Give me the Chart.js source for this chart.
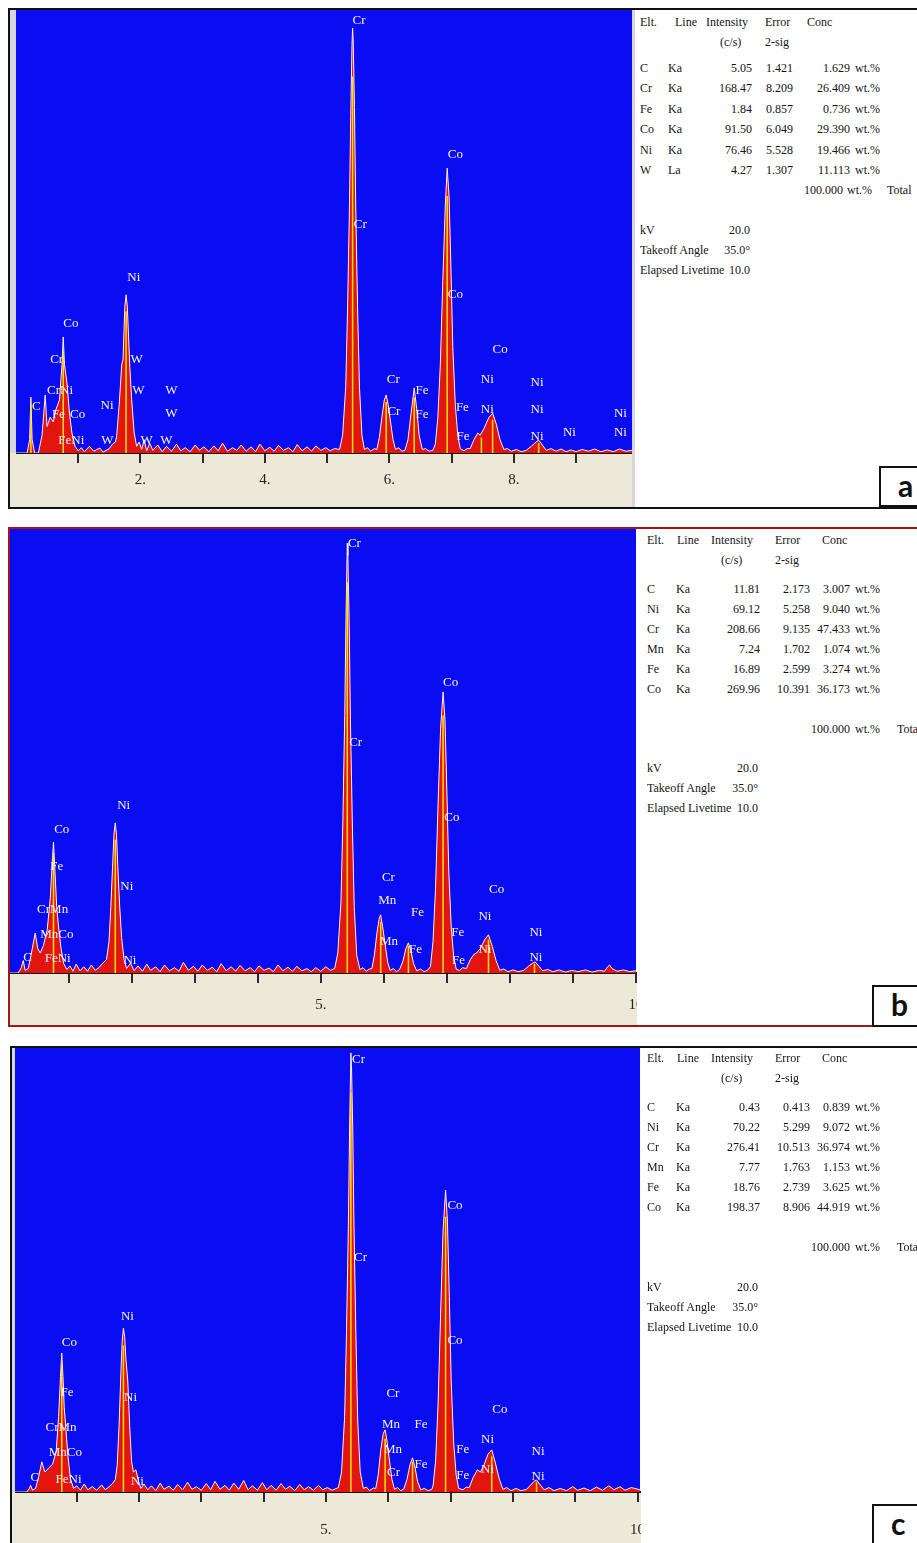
<!DOCTYPE html>
<html lang="en">
<head>
<meta charset="UTF-8">
<script src="https://cdn.jsdelivr.net/npm/chart.js"></script>
<title>EDS spectra a, b, c</title>
<style>
    * { margin: 0; padding: 0; box-sizing: border-box; }
    html, body { width: 917px; height: 1543px; overflow: hidden; background: #fff; position: relative; }
    .frame { position: absolute; border: 2px solid #111; }
    .beige { position: absolute; background: #ece9d8; }
    .strip { position: absolute; background: #d6d6e0; }
    .white { position: absolute; background: #fff; z-index: 3; }
    canvas { position: absolute; z-index: 2; }
    .tbl span { position: absolute; white-space: nowrap; line-height: 14px; z-index: 4;
                font: 12px "Liberation Serif", serif; color: #141414; }
    .tag { position: absolute; z-index: 5; background: #fff; border: 2px solid #111;
           font: bold 30px "Lato", sans-serif; color: #111; padding-left: 17px; line-height: 34px; }
</style>
</head>
<body>
    <!-- panel a -->
    <div class="frame" style="left:8px;top:8px;width:960px;height:501px;"></div>
    <div class="strip" style="left:10px;top:10px;width:6px;height:443px;"></div>
    <div class="beige" style="left:10px;top:453px;width:622px;height:54px;"></div>
    <canvas id="specA" width="616" height="497" style="left:16px;top:10px;"></canvas>
    <div class="strip" style="left:632px;top:10px;width:3px;height:497px;z-index:3;"></div>
    <div class="tag" style="left:879px;top:466px;width:60px;height:41px;">a</div>

    <!-- panel b -->
    <div class="frame" style="left:8px;top:527px;width:960px;height:500px;border-color:#a31616;"></div>
    <div class="beige" style="left:10px;top:973px;width:627px;height:52px;"></div>
    <canvas id="specB" width="640" height="496" style="left:10px;top:529px;"></canvas>
    <div class="white" style="left:637px;top:529px;width:290px;height:496px;"></div>
    <div class="tag" style="left:872px;top:985px;width:60px;height:42px;">b</div>

    <!-- panel c -->
    <div class="frame" style="left:10px;top:1046px;width:960px;height:600px;"></div>
    <div class="strip" style="left:12px;top:1048px;width:3px;height:444px;"></div>
    <div class="beige" style="left:12px;top:1492px;width:629px;height:60px;"></div>
    <canvas id="specC" width="640" height="495" style="left:15px;top:1048px;"></canvas>
    <div class="white" style="left:641px;top:1048px;width:290px;height:495px;"></div>
    <div class="tag" style="left:872px;top:1504px;width:60px;height:50px;">c</div>

    <div class="tbl" id="tables"></div>

    <script>
        // ---- spectra: [keV, counts] (counts scaled 0..1000 = full height of the plot) ----
        const aSpectrum = [
            [0, 0], [0.18, 0], [0.22, 30], [0.24, 126], [0.26, 30], [0.3, 0], [0.36, 0], [0.42, 40], [0.47, 131],
            [0.5, 60], [0.55, 81], [0.6, 70], [0.64, 97], [0.7, 120], [0.74, 200], [0.76, 262], [0.78, 200],
            [0.82, 158], [0.86, 90], [0.9, 45], [0.95, 15], [1.0, 5],
            [1.05, 12], [1.1, 3], [1.18, 15], [1.25, 4], [1.3, 8], [1.35, 11], [1.4, 2], [1.5, 10], [1.55, 20], [1.6, 25],
            [1.62, 40], [1.66, 110], [1.7, 200], [1.72, 210], [1.75, 330], [1.77, 357], [1.79, 330], [1.83, 194],
            [1.86, 120], [1.9, 45], [1.94, 15], [1.98, 25], [2.02, 8], [2.06, 30], [2.1, 5],
            [2.15, 22], [2.2, 6], [2.28, 18], [2.35, 3], [2.42, 15], [2.5, 4], [2.58, 20], [2.65, 5], [2.72, 12],
            [2.8, 3], [2.88, 18], [2.95, 6], [3.02, 14], [3.1, 3], [3.18, 16], [3.25, 5], [3.32, 22], [3.4, 4],
            [3.48, 12], [3.55, 6], [3.62, 18], [3.7, 4], [3.78, 14], [3.85, 3], [3.92, 20], [4.0, 5], [4.08, 13],
            [4.15, 4], [4.22, 17], [4.3, 6], [4.38, 12], [4.45, 3], [4.52, 19], [4.6, 5], [4.68, 14], [4.75, 4],
            [4.82, 16], [4.9, 6], [4.98, 12], [5.05, 5], [5.12, 10],
            [5.2, 8], [5.25, 40], [5.3, 150], [5.33, 330], [5.36, 560], [5.38, 760], [5.4, 920], [5.41, 959],
            [5.42, 930], [5.44, 780], [5.46, 560], [5.49, 330], [5.52, 150], [5.56, 40], [5.6, 8],
            [5.65, 12], [5.7, 4], [5.76, 10],
            [5.8, 8], [5.84, 35], [5.88, 80], [5.92, 120], [5.95, 131], [5.98, 110], [6.02, 70], [6.06, 30], [6.1, 8],
            [6.15, 12], [6.2, 4],
            [6.25, 6], [6.3, 30], [6.35, 90], [6.4, 147], [6.44, 100], [6.48, 40], [6.53, 8],
            [6.58, 10], [6.64, 4], [6.7, 6],
            [6.74, 20], [6.78, 80], [6.82, 200], [6.86, 390], [6.9, 560], [6.93, 643], [6.96, 580], [6.99, 420],
            [7.02, 240], [7.06, 110], [7.1, 40], [7.14, 10],
            [7.2, 5], [7.25, 10],
            [7.3, 10], [7.36, 30], [7.42, 45], [7.46, 40], [7.52, 55], [7.6, 80], [7.66, 90], [7.72, 65], [7.78, 30], [7.84, 8],
            [7.9, 10], [7.96, 4], [8.04, 8], [8.12, 3],
            [8.2, 6], [8.28, 15], [8.36, 25], [8.4, 29], [8.46, 18], [8.52, 6],
            [8.6, 10], [8.68, 4], [8.76, 9], [8.84, 3], [8.92, 7], [9.0, 3], [9.1, 8], [9.2, 4], [9.3, 9], [9.4, 3],
            [9.5, 7], [9.6, 3], [9.7, 9], [9.8, 4], [9.9, 6]
        ];
        const bSpectrum = [
            [0.07, 0], [0.2, 0], [0.25, 12], [0.28, 28], [0.31, 6], [0.36, 10], [0.41, 45], [0.47, 90], [0.51, 55],
            [0.55, 45], [0.6, 62], [0.66, 97], [0.71, 170], [0.74, 250], [0.76, 295], [0.78, 240], [0.81, 150],
            [0.84, 104], [0.88, 55], [0.92, 22], [0.97, 8],
            [1.02, 16], [1.07, 4], [1.12, 20], [1.18, 5], [1.24, 14], [1.3, 4], [1.36, 18], [1.42, 6], [1.48, 12],
            [1.54, 22], [1.6, 30],
            [1.64, 70], [1.67, 150], [1.7, 250], [1.72, 315], [1.74, 338], [1.76, 310], [1.78, 240], [1.81, 150],
            [1.84, 80], [1.88, 30], [1.92, 10],
            [1.98, 22], [2.04, 5], [2.1, 16], [2.17, 4], [2.24, 20], [2.3, 6], [2.38, 14], [2.45, 3], [2.52, 18],
            [2.6, 5], [2.68, 12], [2.75, 4], [2.82, 24], [2.9, 6], [2.98, 15], [3.05, 4], [3.12, 18], [3.2, 6],
            [3.28, 13], [3.35, 3], [3.42, 21], [3.5, 5], [3.58, 14], [3.65, 4], [3.72, 17], [3.8, 5], [3.88, 12],
            [3.95, 3], [4.02, 16], [4.1, 6], [4.18, 11], [4.25, 3], [4.32, 18], [4.4, 5], [4.48, 13], [4.55, 4],
            [4.62, 15], [4.7, 5], [4.78, 10], [4.85, 3], [4.92, 12], [5.0, 4], [5.08, 14], [5.15, 6],
            [5.22, 10], [5.27, 45], [5.32, 160], [5.35, 340], [5.38, 580], [5.4, 800], [5.42, 968], [5.43, 940],
            [5.45, 790], [5.47, 570], [5.5, 340], [5.53, 150], [5.57, 40], [5.62, 8],
            [5.67, 12], [5.72, 4], [5.77, 9],
            [5.81, 10], [5.85, 40], [5.89, 90], [5.93, 125], [5.95, 131], [5.98, 105], [6.02, 65], [6.06, 25], [6.1, 6],
            [6.15, 10], [6.2, 3],
            [6.25, 8], [6.3, 25], [6.35, 55], [6.39, 68], [6.43, 50], [6.47, 22], [6.52, 5],
            [6.58, 9], [6.64, 3], [6.7, 7],
            [6.74, 15], [6.78, 70], [6.82, 190], [6.86, 380], [6.9, 550], [6.94, 633], [6.97, 570], [7.0, 410],
            [7.03, 230], [7.07, 100], [7.11, 35], [7.15, 8],
            [7.2, 6], [7.25, 12],
            [7.31, 10], [7.37, 30], [7.43, 42], [7.47, 45], [7.53, 55], [7.6, 75], [7.66, 86], [7.72, 60], [7.78, 28], [7.84, 6],
            [7.9, 9], [7.97, 3], [8.05, 7], [8.13, 3],
            [8.22, 6], [8.3, 16], [8.36, 22], [8.4, 25], [8.46, 15], [8.52, 5],
            [8.6, 8], [8.68, 3], [8.78, 7], [8.88, 2], [8.98, 6], [9.08, 3], [9.2, 7], [9.3, 2], [9.42, 6], [9.5, 4],
            [9.55, 14], [9.58, 18], [9.62, 10], [9.7, 4], [9.8, 7], [9.9, 3], [10.0, 5]
        ];
        const cSpectrum = [
            [0.01, 0], [0.2, 0], [0.24, 8], [0.26, 15], [0.29, 4], [0.34, 8], [0.39, 35], [0.44, 68], [0.49, 45],
            [0.55, 54], [0.61, 62], [0.67, 90], [0.71, 170], [0.74, 260], [0.76, 313], [0.78, 260], [0.8, 190],
            [0.82, 155], [0.86, 80], [0.9, 30], [0.95, 8],
            [1.0, 14], [1.06, 4], [1.12, 18], [1.18, 5], [1.25, 12], [1.32, 4], [1.4, 16], [1.46, 5], [1.52, 12],
            [1.58, 20], [1.62, 28],
            [1.65, 60], [1.68, 150], [1.71, 270], [1.73, 340], [1.75, 369], [1.77, 350], [1.79, 300], [1.82, 250],
            [1.85, 150], [1.88, 70], [1.91, 45], [1.95, 50], [1.99, 25], [2.03, 8],
            [2.08, 18], [2.14, 5], [2.2, 14], [2.27, 3], [2.34, 20], [2.4, 6], [2.48, 13], [2.55, 4], [2.62, 17],
            [2.7, 5], [2.78, 22], [2.85, 6], [2.92, 12], [3.0, 4], [3.08, 19], [3.15, 5], [3.22, 24], [3.3, 6],
            [3.38, 15], [3.45, 4], [3.52, 20], [3.6, 6], [3.68, 26], [3.75, 5], [3.82, 14], [3.9, 4], [3.98, 21],
            [4.05, 5], [4.12, 15], [4.2, 4], [4.28, 19], [4.35, 6], [4.42, 13], [4.5, 3], [4.58, 17], [4.65, 5],
            [4.72, 12], [4.8, 4], [4.88, 15], [4.95, 5], [5.02, 10], [5.1, 4],
            [5.2, 10], [5.25, 45], [5.3, 170], [5.33, 360], [5.36, 600], [5.38, 820], [5.4, 989], [5.41, 960],
            [5.43, 820], [5.45, 600], [5.48, 360], [5.51, 160], [5.55, 45], [5.6, 8],
            [5.65, 11], [5.7, 3], [5.76, 9],
            [5.8, 8], [5.84, 40], [5.88, 95], [5.92, 132], [5.95, 140], [5.98, 115], [6.02, 70], [6.06, 28], [6.1, 6],
            [6.15, 10], [6.2, 3],
            [6.25, 7], [6.3, 28], [6.35, 62], [6.39, 77], [6.43, 55], [6.47, 24], [6.52, 5],
            [6.58, 8], [6.64, 3], [6.7, 6],
            [6.72, 15], [6.76, 70], [6.8, 200], [6.84, 400], [6.88, 590], [6.92, 680], [6.95, 610], [6.98, 440],
            [7.01, 250], [7.05, 110], [7.09, 38], [7.13, 8],
            [7.2, 5], [7.25, 11],
            [7.3, 10], [7.36, 32], [7.43, 50], [7.48, 45], [7.54, 62], [7.6, 85], [7.66, 95], [7.72, 65], [7.78, 30], [7.84, 6],
            [7.9, 10], [7.97, 3], [8.05, 8], [8.13, 3],
            [8.22, 6], [8.3, 18], [8.34, 24], [8.38, 27], [8.44, 16], [8.5, 5],
            [8.58, 10], [8.66, 3], [8.76, 8], [8.86, 3], [8.96, 12], [9.04, 4], [9.14, 9], [9.24, 3], [9.34, 11],
            [9.44, 4], [9.54, 14], [9.62, 5], [9.72, 12], [9.8, 4], [9.9, 10], [10.04, 5]
        ];

        // yellow line markers: [keV, height]
        const aMarkers = [[0.24, 110], [0.76, 230], [1.77, 320], [5.41, 850], [5.95, 115], [6.4, 125], [6.93, 580], [7.48, 35], [7.66, 75], [8.4, 22]];
        const bMarkers = [[0.76, 270], [1.74, 300], [5.42, 880], [5.95, 115], [6.39, 60], [6.94, 580], [7.66, 75], [8.39, 20]];
        const cMarkers = [[0.76, 290], [1.75, 330], [5.4, 900], [5.95, 120], [6.39, 68], [6.92, 620], [7.66, 80], [8.38, 22]];

        // element labels: [text, keV, height]
        const aPeakLabels = [
            ['C', 0.26, 104], ['Cr', 0.55, 210], ['Co', 0.76, 293], ['CrNi', 0.5, 142], ['Fe', 0.58, 86], ['Co', 0.87, 86],
            ['FeNi', 0.68, 29], ['Ni', 1.36, 108], ['W', 1.37, 29], ['Ni', 1.79, 395], ['W', 1.84, 210], ['W', 1.87, 142],
            ['W', 2.0, 29], ['W', 2.32, 29], ['W', 2.4, 142], ['W', 2.4, 90],
            ['Cr', 5.41, 977], ['Cr', 5.43, 515], ['Co', 6.94, 673], ['Co', 6.94, 357], ['Co', 7.66, 233],
            ['Cr', 5.96, 165], ['Cr', 5.97, 93], ['Fe', 6.42, 142], ['Fe', 6.42, 86], ['Fe', 7.07, 102], ['Fe', 7.08, 36],
            ['Ni', 7.47, 165], ['Ni', 7.47, 97], ['Ni', 8.27, 158], ['Ni', 8.27, 97], ['Ni', 8.27, 36], ['Ni', 8.79, 45],
            ['Ni', 9.61, 90], ['Ni', 9.61, 45]
        ];
        const bPeakLabels = [
            ['C', 0.28, 34], ['CrMn', 0.5, 142], ['MnCo', 0.55, 86], ['FeNi', 0.62, 32], ['Fe', 0.71, 239], ['Co', 0.77, 322],
            ['Ni', 1.77, 378], ['Ni', 1.82, 194], ['Ni', 1.87, 29],
            ['Cr', 5.43, 968], ['Cr', 5.45, 520], ['Co', 6.94, 655], ['Co', 6.96, 351], ['Cr', 5.97, 216], ['Mn', 5.91, 164],
            ['Mn', 5.94, 70], ['Fe', 6.43, 135], ['Fe', 6.4, 52], ['Fe', 7.07, 90], ['Fe', 7.08, 29], ['Co', 7.67, 187],
            ['Ni', 7.5, 126], ['Ni', 7.5, 52], ['Ni', 8.31, 90], ['Ni', 8.31, 34]
        ];
        const cPeakLabels = [
            ['C', 0.26, 32], ['CrMn', 0.5, 144], ['MnCo', 0.55, 88], ['FeNi', 0.66, 29], ['Fe', 0.74, 225], ['Co', 0.76, 336],
            ['Ni', 1.71, 394], ['Ni', 1.76, 212], ['Ni', 1.87, 23],
            ['Cr', 5.42, 973], ['Cr', 5.45, 529], ['Co', 6.95, 646], ['Co', 6.95, 342], ['Cr', 5.97, 222], ['Mn', 5.9, 151],
            ['Fe', 6.42, 151], ['Mn', 5.93, 95], ['Cr', 5.98, 43], ['Fe', 6.42, 61], ['Fe', 7.09, 95], ['Fe', 7.09, 38],
            ['Co', 7.67, 185], ['Ni', 7.49, 117], ['Ni', 7.49, 50], ['Ni', 8.3, 90], ['Ni', 8.3, 34]
        ];

        // x axis labels (keV)
        const aTicks = [2, 4, 6, 8];
        const aTickText = ['2.', '4.', '6.', '8.'];
        const bTicks = [5, 10];
        const bTickText = ['5.', '10'];
        const cTicks = [5, 10];
        const cTickText = ['5.', '10'];

        // ---- quantification tables ----
        const aElements = ['C', 'Cr', 'Fe', 'Co', 'Ni', 'W'];
        const aLines = ['Ka', 'Ka', 'Ka', 'Ka', 'Ka', 'La'];
        const aIntensity = ['5.05', '168.47', '1.84', '91.50', '76.46', '4.27'];
        const aError = ['1.421', '8.209', '0.857', '6.049', '5.528', '1.307'];
        const aConc = ['1.629', '26.409', '0.736', '29.390', '19.466', '11.113'];

        const bElements = ['C', 'Ni', 'Cr', 'Mn', 'Fe', 'Co'];
        const bLines = ['Ka', 'Ka', 'Ka', 'Ka', 'Ka', 'Ka'];
        const bIntensity = ['11.81', '69.12', '208.66', '7.24', '16.89', '269.96'];
        const bError = ['2.173', '5.258', '9.135', '1.702', '2.599', '10.391'];
        const bConc = ['3.007', '9.040', '47.433', '1.074', '3.274', '36.173'];

        const cElements = ['C', 'Ni', 'Cr', 'Mn', 'Fe', 'Co'];
        const cLines = ['Ka', 'Ka', 'Ka', 'Ka', 'Ka', 'Ka'];
        const cIntensity = ['0.43', '70.22', '276.41', '7.77', '18.76', '198.37'];
        const cError = ['0.413', '5.299', '10.513', '1.763', '2.739', '8.906'];
        const cConc = ['0.839', '9.072', '36.974', '1.153', '3.625', '44.919'];

        const runLabels = ['kV', 'Takeoff Angle', 'Elapsed Livetime'];
        const runValues = ['20.0', '35.0°', '10.0'];

        // blue plot background
        const blueBg = {
            id: 'blueBg',
            beforeDraw(chart) {
                const a = chart.chartArea, c = chart.ctx;
                c.save();
                c.fillStyle = '#0a0cf2';
                c.fillRect(a.left, a.top, a.right - a.left, a.bottom - a.top);
                c.restore();
            }
        };

        // element names written over the peaks
        const peakText = {
            id: 'peakText',
            afterDatasetsDraw(chart, args, opts) {
                const c = chart.ctx, xs = chart.scales.x, ys = chart.scales.y;
                c.save();
                c.font = '13px "Liberation Serif", serif';
                c.fillStyle = '#f4f4ff';
                c.textBaseline = 'middle';
                opts.items.forEach(l => c.fillText(l[0], xs.getPixelForValue(l[1]), ys.getPixelForValue(l[2])));
                c.restore();
            }
        };

        function Espectro(id, spectrum, markers, labels, xMin, xMax, ticks, tickText, axisH, labelLine, padRight) {
            const markerPts = [];
            markers.forEach(m => {
                markerPts.push({ x: m[0], y: 0 }, { x: m[0], y: m[1] }, { x: m[0], y: null });
            });
            new Chart(document.getElementById(id), {
                type: 'line',
                data: {
                    datasets: [{
                        data: spectrum.map(p => ({ x: p[0], y: p[1] })),
                        order: 2,
                        borderColor: '#fff0f0',
                        borderWidth: 1,
                        backgroundColor: '#e3150f',
                        fill: 'origin',
                        pointRadius: 0,
                        tension: 0
                    }, {
                        data: markerPts,
                        order: 1,
                        borderColor: '#ffe21a',
                        borderWidth: 1.5,
                        pointRadius: 0,
                        spanGaps: false,
                        fill: false
                    }]
                },
                options: {
                    responsive: false,
                    animation: false,
                    devicePixelRatio: 1,
                    layout: { padding: { left: 0, right: padRight, top: 0, bottom: 0 } },
                    plugins: {
                        legend: { display: false },
                        tooltip: { enabled: false },
                        peakText: { items: labels }
                    },
                    scales: {
                        x: {
                            type: 'linear',
                            min: xMin,
                            max: xMax,
                            afterFit(s) { s.height = axisH; },
                            border: { display: true, color: '#111', width: 2 },
                            grid: {
                                drawOnChartArea: false,
                                drawTicks: true,
                                tickLength: 10,
                                lineWidth: 2,
                                color: '#2a2a2a'
                            },
                            ticks: {
                                stepSize: 1,
                                includeBounds: false,
                                autoSkip: false,
                                maxRotation: 0,
                                padding: 0,
                                color: '#222',
                                font: { family: '"Liberation Serif", serif', size: 15, lineHeight: labelLine + 'px' },
                                callback: v => {
                                    const i = ticks.indexOf(v);
                                    return i < 0 ? '' : tickText[i];
                                }
                            }
                        },
                        y: { display: false, min: 0, max: 1000 }
                    }
                },
                plugins: [blueBg, peakText]
            });
        }

        Espectro('specA', aSpectrum, aMarkers, aPeakLabels, 0.001, 9.9, aTicks, aTickText, 54, 34, 0);
        Espectro('specB', bSpectrum, bMarkers, bPeakLabels, 0.07, 10.0, bTicks, bTickText, 52, 44, 14);
        Espectro('specC', cSpectrum, cMarkers, cPeakLabels, 0.01, 10.04, cTicks, cTickText, 51, 56, 15);

        // tables
        const holder = document.getElementById('tables');
        function put(text, x, y, right) {
            const s = document.createElement('span');
            s.textContent = text;
            s.style.top = (y - 7) + 'px';
            if (right) s.style.right = (917 - x) + 'px';
            else s.style.left = x + 'px';
            holder.appendChild(s);
        }

        function Tabla(el, ln, it, er, co, p) {
            put('Elt.', p.elt, p.head); put('Line', p.hLine, p.head); put('Intensity', p.hInt, p.head);
            put('Error', p.hErr, p.head); put('Conc', p.hConc, p.head);
            put('(c/s)', p.hSub, p.sub); put('2-sig', p.hErr, p.sub);
            el.forEach((e, i) => {
                const y = p.row0 + i * p.step;
                put(e, p.elt, y); put(ln[i], p.line, y);
                put(it[i], p.intR, y, true); put(er[i], p.errR, y, true); put(co[i], p.concR, y, true);
                put('wt.%', p.wt, y);
            });
            put('100.000', p.totR, p.total, true); put('wt.%', p.totWt, p.total); put('Total', p.tot, p.total);
            runLabels.forEach((r, i) => {
                put(r, p.elt, p.kv + i * 20);
                put(runValues[i], p.kvR, p.kv + i * 20, true);
            });
        }

        Tabla(aElements, aLines, aIntensity, aError, aConc, {
            elt: 640, line: 668, hLine: 675, hInt: 706, hSub: 720, hErr: 765, hConc: 807,
            intR: 752, errR: 793, concR: 850, wt: 855, totR: 843, totWt: 847, tot: 887, kvR: 750,
            head: 22, sub: 42, row0: 68, step: 20.4, total: 190, kv: 230
        });
        Tabla(bElements, bLines, bIntensity, bError, bConc, {
            elt: 647, line: 676, hLine: 677, hInt: 711, hSub: 721, hErr: 775, hConc: 822,
            intR: 760, errR: 810, concR: 850, wt: 855, totR: 850, totWt: 855, tot: 897, kvR: 758,
            head: 540, sub: 560, row0: 589, step: 20, total: 729, kv: 768
        });
        Tabla(cElements, cLines, cIntensity, cError, cConc, {
            elt: 647, line: 676, hLine: 677, hInt: 711, hSub: 721, hErr: 775, hConc: 822,
            intR: 760, errR: 810, concR: 850, wt: 855, totR: 850, totWt: 855, tot: 897, kvR: 758,
            head: 1058, sub: 1078, row0: 1107, step: 20, total: 1247, kv: 1287
        });
    </script>
</body>
</html>
